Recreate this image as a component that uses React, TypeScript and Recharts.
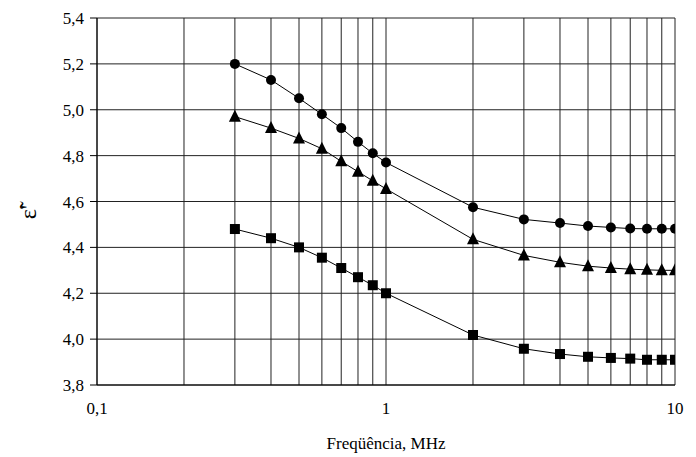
import {
  LineChart,
  Line,
  XAxis,
  YAxis,
  CartesianGrid,
} from "recharts";

const FREQS = [0.3, 0.4, 0.5, 0.6, 0.7, 0.8, 0.9, 1, 2, 3, 4, 5, 6, 7, 8, 9, 10];
const CIRCLE = [5.2, 5.13, 5.05, 4.98, 4.92, 4.86, 4.81, 4.77, 4.575, 4.522, 4.506, 4.493, 4.487, 4.482, 4.481, 4.481, 4.481];
const TRIANGLE = [4.97, 4.92, 4.875, 4.83, 4.775, 4.73, 4.69, 4.655, 4.435, 4.365, 4.335, 4.318, 4.31, 4.305, 4.302, 4.3, 4.3];
const SQUARE = [4.48, 4.44, 4.4, 4.355, 4.31, 4.27, 4.235, 4.2, 4.018, 3.958, 3.935, 3.923, 3.918, 3.915, 3.91, 3.91, 3.91];

const X_TICKS = [0.1, 0.2, 0.3, 0.4, 0.5, 0.6, 0.7, 0.8, 0.9, 1, 2, 3, 4, 5, 6, 7, 8, 9, 10];
const X_LABELS = [0.1, 1, 10];
const Y_TICKS = [3.8, 4.0, 4.2, 4.4, 4.6, 4.8, 5.0, 5.2, 5.4];

const data = FREQS.map((f, i) => ({
  f,
  circle: CIRCLE[i],
  triangle: TRIANGLE[i],
  square: SQUARE[i],
}));

const FONT = "'Liberation Serif', 'Times New Roman', serif";
const comma = (v: number, digits: number) => v.toFixed(digits).replace(".", ",");

// custom ticks so the serif font actually sticks
const XTick = ({ x, y, payload }: any) => {
  const v = payload.value as number;
  if (!X_LABELS.includes(v)) return <g />;
  return (
    <text x={x} y={y + 17} textAnchor="middle" fill="#000" fontSize={17} fontFamily={FONT}>
      {v < 1 ? comma(v, 1) : String(v)}
    </text>
  );
};
const YTick = ({ x, y, payload }: any) => (
  <text x={x - 4} y={y + 6} textAnchor="end" fill="#000" fontSize={17} fontFamily={FONT}>
    {comma(payload.value, 1)}
  </text>
);

// ε with tilde, rotated like the original
const YLabel = () => (
  <text
    x={36}
    y={212}
    transform="rotate(-90 36 212)"
    textAnchor="middle"
    fill="#000"
    fontSize={24}
    fontFamily={FONT}
  >
    {"ε\u0303'"}
  </text>
);

const CircleDot = (props: any) => (
  <circle key={props.index} cx={props.cx} cy={props.cy} r={5} fill="#000" />
);
const TriangleDot = (props: any) => {
  const { cx, cy } = props;
  const s = 6;
  return (
    <polygon
      key={props.index}
      points={`${cx},${cy - s - 1} ${cx - s},${cy + s - 1} ${cx + s},${cy + s - 1}`}
      fill="#000"
    />
  );
};
const SquareDot = (props: any) => (
  <rect key={props.index} x={props.cx - 5} y={props.cy - 5} width={10} height={10} fill="#000" />
);

export default function App() {
  return (
    <div style={{ position: "absolute", left: 0, top: 0, background: "#fff" }}>
      <LineChart
        width={696}
        height={457}
        data={data}
        margin={{ top: 18, right: 21, bottom: 0, left: 0 }}
      >
        <CartesianGrid stroke="#222" strokeWidth={1} />
        <XAxis
          dataKey="f"
          type="number"
          scale="log"
          domain={[0.1, 10]}
          ticks={X_TICKS}
          interval={0}
          allowDataOverflow
          height={72}
          stroke="#000"
          tickLine={false}
          tick={XTick}
          tickMargin={6}
          label={{
            value: "Freqüência, MHz",
            position: "insideBottom",
            offset: 8,
            fill: "#000",
            fontSize: 17,
            fontFamily: FONT,
          }}
        />
        <YAxis
          type="number"
          domain={[3.8, 5.4]}
          ticks={Y_TICKS}
          interval={0}
          width={97}
          stroke="#000"
          tickSize={7}
          tick={YTick}
          label={<YLabel />}
        />
        <Line
          dataKey="circle"
          stroke="#000"
          strokeWidth={1}
          dot={CircleDot}
          isAnimationActive={false}
        />
        <Line
          dataKey="triangle"
          stroke="#000"
          strokeWidth={1}
          dot={TriangleDot}
          isAnimationActive={false}
        />
        <Line
          dataKey="square"
          stroke="#000"
          strokeWidth={1}
          dot={SquareDot}
          isAnimationActive={false}
        />
      </LineChart>
    </div>
  );
}
